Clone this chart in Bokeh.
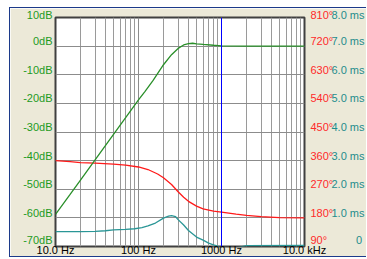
from bokeh.plotting import figure
from bokeh.models import Range1d, LinearAxis, FixedTicker, Span
from bokeh.embed import file_html
from bokeh.resources import INLINE

# ---- data ----
freq_mag = [10, 15, 20, 30, 50, 70, 100, 120, 150, 200, 250, 300, 350, 400, 450, 500, 600, 800, 1000, 2000, 10000]
mag_db = [-58.8, -51.8, -46.8, -39.7, -30.8, -25.0, -18.8, -15.8, -12.0, -6.5, -3.0, -0.8, 0.4, 0.9, 1.0,
          0.8, 0.6, 0.3, 0.1, 0.0, 0.0]

freq_phase = [10, 15, 20, 30, 50, 70, 100, 130, 170, 200, 250, 300, 350, 400, 500, 600, 800, 1000, 1500,
              2000, 3000, 5000, 10000]
phase_deg = [360, 357, 354, 352, 349, 346, 340, 332, 318, 306, 285, 262, 245, 232, 217, 208, 201, 198, 192,
             188, 184, 181, 180]

freq_gd = [10, 20, 30, 40, 50, 70, 90, 110, 130, 160, 200, 230, 250, 280, 300, 350, 400, 500, 600, 700,
           800, 900, 1000, 1500, 2000, 10000]
gd_ms = [0.52, 0.52, 0.53, 0.55, 0.58, 0.60, 0.62, 0.66, 0.72, 0.82, 0.99, 1.06, 1.08, 1.04, 0.94, 0.75,
         0.56, 0.33, 0.22, 0.12, 0.06, 0.01, -0.1, -0.05, 0.03, 0.04]

x_ticks = [10, 100, 1000, 10000]
x_labels = ["10.0 Hz", "100 Hz", "1000 Hz", "10.0 kHz"]
x_minor = [20, 30, 40, 50, 60, 70, 80, 90, 200, 300, 400, 500, 600, 700, 800, 900,
           2000, 3000, 4000, 5000, 6000, 7000, 8000, 9000]

db_ticks = [-70, -60, -50, -40, -30, -20, -10, 0, 10]
db_labels = ["-70dB", "-60dB", "-50dB", "-40dB", "-30dB", "-20dB", "-10dB", "0dB", "10dB"]

phase_ticks = [90, 180, 270, 360, 450, 540, 630, 720, 810]
phase_labels = ["90°", "180°", "270°", "360°", "450°", "540°", "630°", "720°", "810°"]

gd_ticks = [0, 1, 2, 3, 4, 5, 6, 7, 8]
gd_labels = ["\u00a0" * 8 + "0", "1.0 ms", "2.0 ms", "3.0 ms", "4.0 ms", "5.0 ms",
             "6.0 ms", "7.0 ms", "8.0 ms"]

marker_freq = 1000

# ---- styling ----
FONT = "Liberation Sans"
FS = "11px"
GREEN_T = "#1E9A1E"
RED_T = "#FF2A2A"
TEAL_T = "#1E8C8C"
BEIGE = "#ECE9D8"
NAVY = "#1C3A8A"


def raised(ticks, labels):
    # the original draws value labels slightly above their grid line:
    # an empty second line lifts the visible line of each centred label
    return {t: l + "\n" for t, l in zip(ticks, labels)}


p = figure(width=357, height=250, x_axis_type="log", output_backend="svg", toolbar_location=None,
           x_range=Range1d(10, 10000), y_range=Range1d(-70, 10),
           min_border_left=45, min_border_top=9, min_border_bottom=12, min_border_right=0)
p.styles = {"margin-left": "9px", "margin-top": "7px",
            "border-left": f"1px solid {NAVY}", "border-top": f"1px solid {NAVY}",
            "border-bottom": f"1px solid {NAVY}"}
p.border_fill_color = BEIGE
p.background_fill_color = "white"
p.outline_line_color = "#404040"
p.outline_line_width = 2

p.extra_y_ranges = {"phase": Range1d(90, 810), "gd": Range1d(0, 8)}

# x axis
xa = p.xaxis[0]
xa.ticker = FixedTicker(ticks=x_ticks, minor_ticks=x_minor)
xa.major_label_overrides = {t: l for t, l in zip(x_ticks, x_labels)}
xa.major_label_standoff = -3
xa.major_label_text_font = FONT
xa.major_label_text_font_size = FS
xa.major_label_text_color = "black"

# left axis
ya = p.yaxis[0]
ya.ticker = FixedTicker(ticks=db_ticks)
ya.major_label_overrides = raised(db_ticks, db_labels)
ya.major_label_standoff = 3
ya.major_label_text_font = FONT
ya.major_label_text_font_size = FS
ya.major_label_text_color = GREEN_T
ya.major_label_text_line_height = 0.85

ax_phase = LinearAxis(y_range_name="phase", ticker=FixedTicker(ticks=phase_ticks),
                      major_label_overrides=raised(phase_ticks, phase_labels),
                      major_label_standoff=6, major_label_text_font=FONT, major_label_text_font_size=FS,
                      major_label_text_color=RED_T, major_label_text_line_height=0.85)
ax_gd = LinearAxis(y_range_name="gd", ticker=FixedTicker(ticks=gd_ticks),
                   major_label_overrides=raised(gd_ticks, gd_labels),
                   major_label_standoff=-5, major_label_text_font=FONT, major_label_text_font_size=FS,
                   major_label_text_color=TEAL_T, major_label_text_line_height=0.85)
p.add_layout(ax_phase, "right")
p.add_layout(ax_gd, "right")

for ax in [xa, ya, ax_phase, ax_gd]:
    ax.axis_line_color = None
    ax.major_tick_line_color = None
    ax.minor_tick_line_color = None
    ax.major_tick_out = 0
    ax.major_tick_in = 0
    ax.minor_tick_out = 0
    ax.minor_tick_in = 0

# grid
p.xgrid.ticker = FixedTicker(ticks=x_ticks, minor_ticks=x_minor)
p.xgrid.grid_line_color = "#8C8C8C"
p.xgrid.minor_grid_line_color = "#9A9A9A"
p.ygrid.ticker = FixedTicker(ticks=db_ticks)
p.ygrid.grid_line_color = "#8C8C8C"

# marker line
p.add_layout(Span(location=marker_freq, dimension="height", line_color="#0000FF", line_width=1))

# curves
p.line(freq_gd, gd_ms, y_range_name="gd", line_color="#2A9696", line_width=1.3)
p.line(freq_phase, phase_deg, y_range_name="phase", line_color="#FF1A1A", line_width=1.3)
p.line(freq_mag, mag_db, line_color="#2A8F2A", line_width=1.3)

open("out.html", "w").write(file_html(p, INLINE))
